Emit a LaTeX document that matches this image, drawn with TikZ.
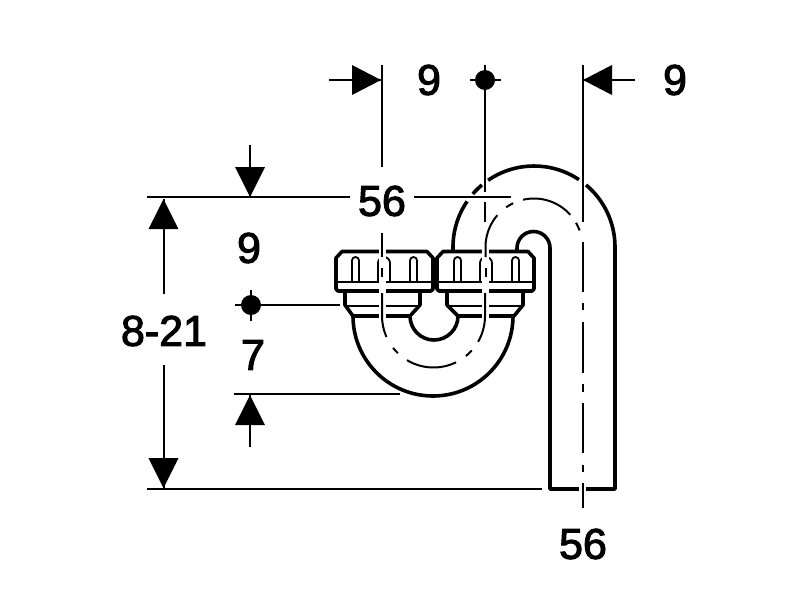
\documentclass[tikz,border=0pt]{standalone}
\usepackage{fontspec}
\setmainfont[FakeBold=2.5]{Liberation Sans}
\newcommand{\capslot}[2]{%
  \draw[thinpart] (#1,282) -- (#1,{257+(#2-#1)/2})
    arc[start angle=180,end angle=360,radius={(#2-#1)/2}] -- (#2,282);}
\newcommand{\downtip}[2]{\fill[tip] (#1,#2) -- (#1-15,#2-30) -- (#1+15,#2-30) -- cycle;}
\newcommand{\uptip}[2]{\fill[tip] (#1,#2) -- (#1-15,#2+30) -- (#1+15,#2+30) -- cycle;}
\begin{document}
\begin{tikzpicture}[x=1pt,y=-1pt,
  outline/.style={line width=3.6pt,line join=round},
  thinpart/.style={line width=1.8pt,line join=round},
  dimline/.style={line width=2pt},
  centerl/.style={line width=2pt},
  halo/.style={white,line width=7pt},
  tip/.style={fill=black,draw=none},
  dot/.style={circle,fill=black,inner sep=0pt,minimum size=20pt},
  lab/.style={inner sep=0pt,font=\fontsize{43}{43}\selectfont}]
\useasboundingbox (0,0) rectangle (800,600);
\fill[white] (0,0) rectangle (800,600);

% --- lower U bend
\draw[outline] (353,316) arc[start angle=180,end angle=0,radius=80];
\draw[outline] (410,316) arc[start angle=180,end angle=0,radius=24];

% --- nuts
\draw[outline] (345,291) -- (345,305) -- (353,316) -- (410,316) -- (420,305) -- (420,291);
\draw[outline] (447,291) -- (447,305) -- (458,316) -- (514,316) -- (523,305) -- (523,291);
\draw[thinpart] (345,306) -- (420,306);
\draw[thinpart] (447,306) -- (523,306);

% --- caps
\draw[outline] (336,289) -- (336,258) -- (342,251.5) -- (427,251.5) -- (433,258) -- (433,289) -- (431,291) -- (338,291) -- cycle;
\draw[outline] (437,289) -- (437,258) -- (443,251.5) -- (528,251.5) -- (534,258) -- (534,289) -- (532,291) -- (439,291) -- cycle;
\draw[thinpart] (336,282) -- (433,282);
\draw[thinpart] (437,282) -- (534,282);
\capslot{352}{359}
\capslot{378}{390}
\capslot{410}{417}
\capslot{454}{461}
\capslot{480}{492}
\capslot{512}{519}

% --- upper bend and tail pipe
\draw[outline] (453,251) -- (453,247) arc[start angle=180,end angle=214.3,radius=81];
\draw[outline] (534,247) ++(221:81) arc[start angle=221,end angle=230,radius=81];
\draw[outline] (534,247) ++(235.5:81) arc[start angle=235.5,end angle=303.7,radius=81];
\draw[outline] (534,247) ++(310:81) arc[start angle=310,end angle=360,radius=81] -- (615,489) -- (550,489) -- (550,248)
   arc[start angle=0,end angle=-180,radius=16.5] -- (517,251);

% --- white gaps round the centre lines
\draw[halo] (382,248) -- (382,320);
\draw[halo] (485.5,248) -- (485.5,320);
\draw[halo] (582.5,485) -- (582.5,493);

% --- centre lines, lower bend
\draw[centerl] (382,233) -- (382,257);
\draw[centerl] (382,268) -- (382,277);
\draw[centerl] (382,293) -- (382,316) arc[start angle=180,end angle=156,radius=51.5];
\draw[centerl] (433.5,316) ++(141.7:51.5) arc[start angle=141.7,end angle=133.8,radius=51.5];
\draw[centerl] (433.5,316) ++(121:51.5) arc[start angle=121,end angle=64,radius=51.5];
\draw[centerl] (433.5,316) ++(51:51.5) arc[start angle=51,end angle=42,radius=51.5];
\draw[centerl] (433.5,316) ++(30:51.5) arc[start angle=30,end angle=0,radius=51.5] -- (485,293);
\draw[centerl] (485.5,268) -- (485.5,277);

% --- centre lines, upper bend
\draw[centerl] (485.5,257) -- (485.5,247) arc[start angle=180,end angle=221,radius=48.5];
\draw[centerl] (534,247) ++(235:48.5) arc[start angle=235,end angle=244.5,radius=48.5];
\draw[centerl] (534,247) ++(257:48.5) arc[start angle=257,end angle=318.4,radius=48.5];
\draw[centerl] (534,247) ++(330:48.5) arc[start angle=330,end angle=340,radius=48.5];

% --- centre line, tail pipe
\draw[centerl] (582.5,242) -- (582.5,292);
\draw[centerl] (582.5,303) -- (582.5,310);
\draw[centerl] (582.5,322) -- (582.5,373);
\draw[centerl] (582.5,384) -- (582.5,392);
\draw[centerl] (582.5,403) -- (582.5,453);
\draw[centerl] (582.5,465) -- (582.5,472);
\draw[centerl] (582.5,483) -- (582.5,508);

% --- named points
\coordinate (a1) at (381.5,65);  \coordinate (a2) at (381.5,167);
\coordinate (b2) at (485,222);   \coordinate (b0) at (485,202);
\coordinate (c1) at (582.5,65);  \coordinate (c2) at (582.5,222);
\coordinate (h1) at (147,197);   \coordinate (h3) at (511,197);
\coordinate (g1) at (147,489);   \coordinate (g2) at (542,489);
\coordinate (k1) at (234,394);   \coordinate (k2) at (400,394);
\coordinate (m2) at (340,305);
\coordinate (u1) at (329,80);    \coordinate (u2) at (381,80);
\coordinate (w1) at (635,80);    \coordinate (w2) at (583,80);
\coordinate (t1) at (250,145);   \coordinate (t2) at (250,197);
\coordinate (p1) at (250,447);   \coordinate (p2) at (250,395);
\coordinate (q1) at (163.5,199); \coordinate (q2) at (163.5,294);
\coordinate (q3) at (163.5,365); \coordinate (q4) at (163.5,488);

% --- labels
\node[lab] (l9a) at (429,80) {9};
\node[lab] (l9b) at (675,80) {9};
\node[lab] (l56a) at (382,201) {56};
\node[lab] (l9c) at (249,248) {9};
\node[lab] (l7) at (253,355) {7};
\node[lab] (l821) at (164,331) {8-21};
\node[lab] (l56b) at (583,544) {56};

% --- centre marks
\node[dot] (d1) at (485,80) {};
\node[dot] (d2) at (251,305) {};
\draw[dimline] (470,80) -- (501,80);
\draw[dimline] (485,65) -- (485,192);
\draw[dimline] (b0) -- (b2);
\draw[dimline] (235,305) -- (m2);
\draw[dimline] (251,290) -- (251,321);

% --- dimension lines
\draw[dimline] (a1) -- (a2);
\draw[dimline] (c1) -- (c2);
\draw[dimline] (h1) -- (350,197);
\draw[dimline] (414,197) -- (h3);
\draw[dimline] (g1) -- (g2);
\draw[dimline] (k1) -- (k2);
\draw[dimline] (u1) -- (u2);
\draw[dimline] (w1) -- (w2);
\draw[dimline] (t1) -- (t2);
\draw[dimline] (p1) -- (p2);
\draw[dimline] (q1) -- (q2);
\draw[dimline] (q3) -- (q4);

% --- arrow tips
\fill[tip] (381,80) -- (352,65) -- (352,95) -- cycle;
\fill[tip] (583,80) -- (612,65) -- (612,95) -- cycle;
\downtip{250}{197}
\uptip{250}{395}
\uptip{163.5}{199}
\downtip{163.5}{488}
\end{tikzpicture}
\end{document}
